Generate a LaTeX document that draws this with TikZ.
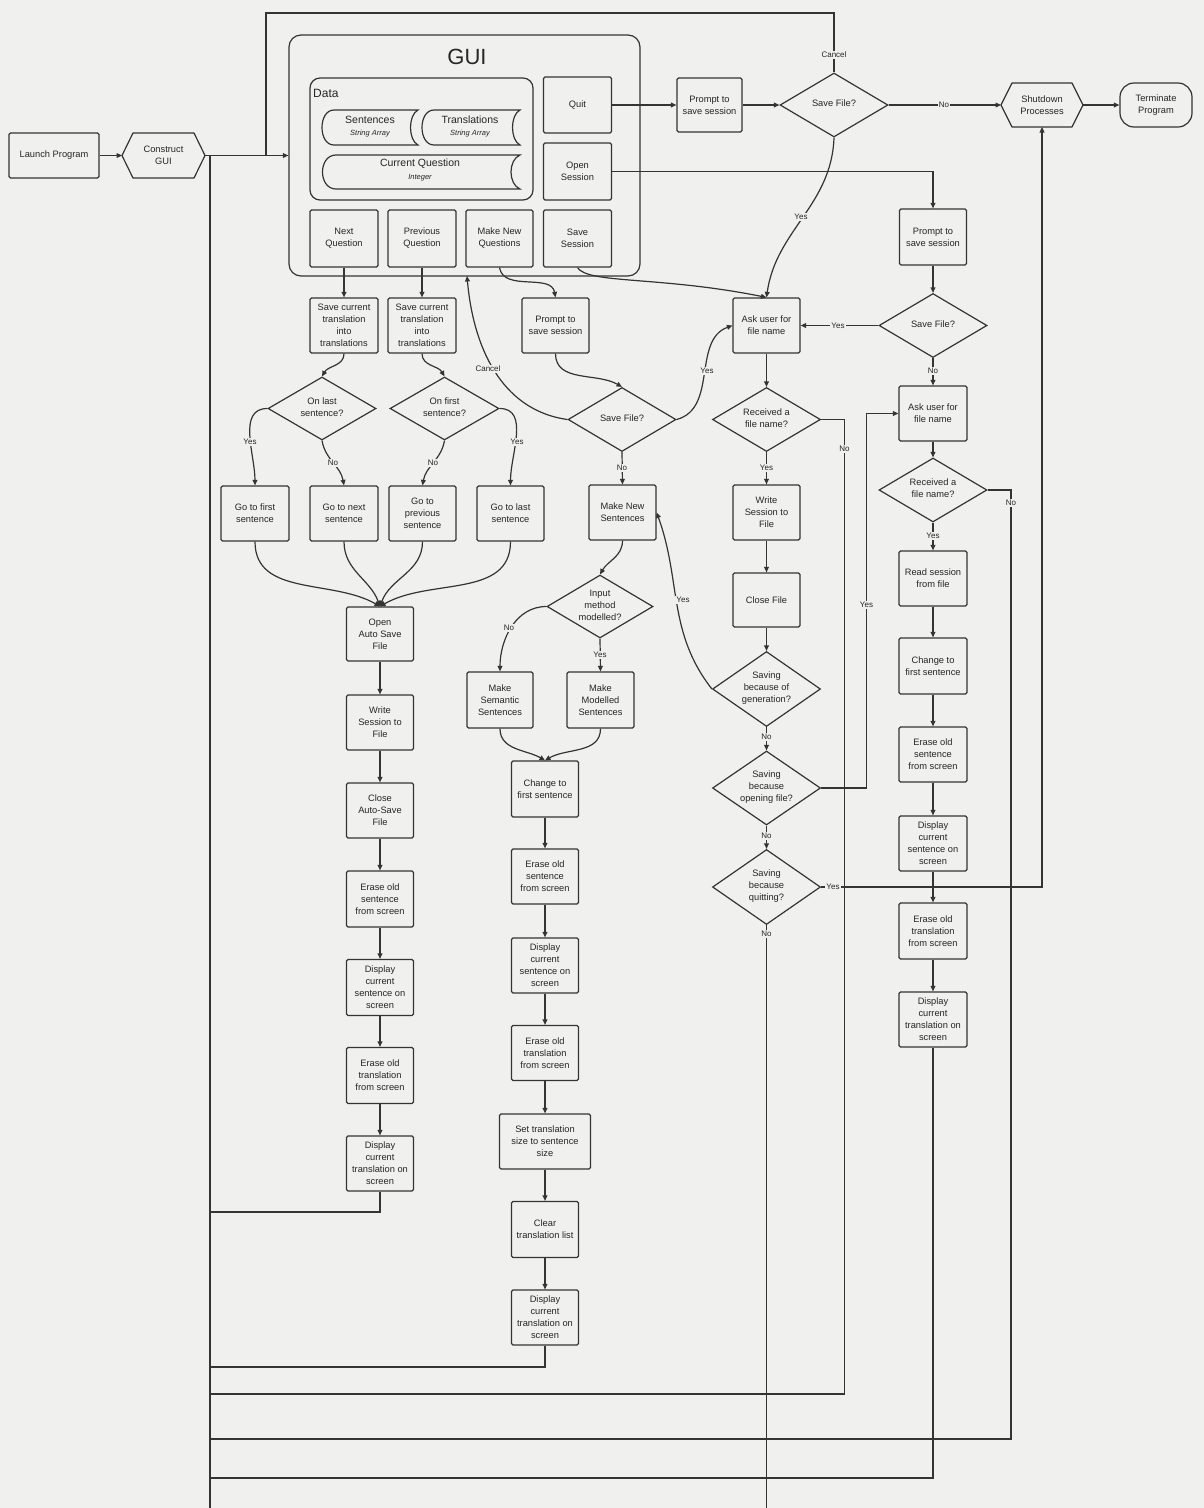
\documentclass[tikz,border=0pt]{standalone}
\usepackage{fontspec}
\setmainfont{Liberation Sans}
\usetikzlibrary{shapes.geometric,arrows.meta}
\definecolor{bg}{RGB}{240,240,239}
\definecolor{lnc}{RGB}{52,52,52}
\definecolor{tx}{RGB}{38,38,38}
\newcommand{\boxfont}{\fontsize{9.3}{12}\selectfont}
\newcommand{\lblfont}{\fontsize{8}{9.5}\selectfont}
\newcommand{\dtx}[1]{\makebox[0pt]{\raisebox{-2.8pt}{\smash{\begin{tabular}{@{}c@{}}#1\end{tabular}}}}}
\begin{document}
\begin{tikzpicture}[x=1pt,y=-1pt,
  box/.style={draw=lnc, line width=1.2pt, rounded corners=1.5pt, fill=bg, text=tx, align=center, font=\boxfont, inner sep=1pt, minimum width=67pt, minimum height=55pt},
  dia/.style={diamond, draw=lnc, line width=1.2pt, fill=bg, text=tx, font=\boxfont, inner sep=0pt, minimum width=108pt, minimum height=64pt},
  hexa/.style={draw=none, text=tx, align=center, font=\boxfont, inner sep=0pt, outer sep=0pt},
  conn/.style={draw=lnc, line width=1.2pt},
  arr/.style={conn, -{Triangle[length=5.5pt,width=4.8pt]}},
  lbl/.style={fill=bg, text=tx, font=\lblfont, inner sep=1pt},
  shp/.style={draw=lnc, line width=1.2pt}]
\fill[bg] (0,0) rectangle (1204,1508);
\useasboundingbox (0,0) rectangle (1204,1508);

% ---------- top row ----------
\node[box, minimum width=90pt, minimum height=45pt] (launch) at (54,155.5) {Launch Program};
\node[hexa, minimum width=83pt, minimum height=45pt] (construct) at (163.5,155.5) {Construct\\GUI};
\draw[conn, line join=round] (construct.west) -- ([xshift=11pt]construct.north west) -- ([xshift=-11pt]construct.north east) -- (construct.east) -- ([xshift=-11pt]construct.south east) -- ([xshift=11pt]construct.south west) -- cycle;

% ---------- GUI container ----------
\node[draw=lnc, line width=1.2pt, rounded corners=12pt, minimum width=351pt, minimum height=241pt, inner sep=0pt] (gui) at (464.5,155.5) {};
\node[text=tx, font=\fontsize{22}{24}\selectfont, inner sep=0pt] (guititle) at (467,57) {GUI};
\node[draw=lnc, line width=1.2pt, rounded corners=10pt, minimum width=223pt, minimum height=122pt, inner sep=0pt] (data) at (421.5,139) {};
\node[text=tx, font=\fontsize{12}{14}\selectfont, anchor=west, inner sep=0pt] (datatitle) at (313,93) {Data};

% stored data shapes
\draw[shp] (334,110) -- (418,110) .. controls (408,115) and (408,140) .. (418,145) -- (334,145) .. controls (318,145) and (318,110) .. (334,110) -- cycle;
\draw[shp] (434,110) -- (520,110) .. controls (510,115) and (510,140) .. (520,145) -- (434,145) .. controls (418,145) and (418,110) .. (434,110) -- cycle;
\draw[shp] (336,155) -- (520,155) .. controls (508,160) and (508,184) .. (520,189) -- (336,189) .. controls (318,189) and (318,155) .. (336,155) -- cycle;
\node[text=tx, font=\fontsize{10.5}{12}\selectfont, inner sep=0pt] (sentA) at (370,120) {Sentences};
\node[text=tx, font=\fontsize{7.5}{9}\selectfont\itshape, inner sep=0pt] (sentB) at (370,134) {String Array};
\node[text=tx, font=\fontsize{10.5}{12}\selectfont, inner sep=0pt] (transA) at (470,120) {Translations};
\node[text=tx, font=\fontsize{7.5}{9}\selectfont\itshape, inner sep=0pt] (transB) at (470,134) {String Array};
\node[text=tx, font=\fontsize{10.5}{12}\selectfont, inner sep=0pt] (curA) at (420,164) {Current Question};
\node[text=tx, font=\fontsize{7.5}{9}\selectfont\itshape, inner sep=0pt] (curB) at (420,177.5) {Integer};

\node[box, minimum width=68pt, minimum height=56pt] (quit) at (577.5,105) {Quit};
\node[box, minimum width=68pt, minimum height=57pt] (opensess) at (577.5,171.5) {Open\\Session};
\node[box, minimum width=68pt, minimum height=57pt] (nextq) at (344,238.5) {Next\\Question};
\node[box, minimum width=68pt, minimum height=57pt] (prevq) at (422,238.5) {Previous\\Question};
\node[box, minimum width=67pt, minimum height=57pt] (makeq) at (499.5,238.5) {Make New\\Questions};
\node[box, minimum width=68pt, minimum height=57pt] (savesess) at (577.5,238.5) {Save\\Session};

% ---------- quit branch ----------
\node[box, minimum width=65pt, minimum height=54pt] (prompt1) at (709.5,105) {Prompt to\\save session};
\node[dia] (sf1) at (834,105) {\dtx{Save File?}};
\node[hexa, minimum width=82pt, minimum height=44pt] (shutdown) at (1042,105) {Shutdown\\Processes};
\draw[conn, line join=round] (shutdown.west) -- ([xshift=11pt]shutdown.north west) -- ([xshift=-11pt]shutdown.north east) -- (shutdown.east) -- ([xshift=-11pt]shutdown.south east) -- ([xshift=11pt]shutdown.south west) -- cycle;
\node[box, rounded corners=14pt, minimum width=72pt, minimum height=44pt] (terminate) at (1156,105) {Terminate\\Program};

% ---------- open session branch ----------
\node[box, minimum width=67pt, minimum height=56pt] (prompt2) at (933,237) {Prompt to\\save session};
\node[dia] (sf2) at (933,325.5) {\dtx{Save File?}};
\node[box, minimum width=68pt] (ask2) at (933,413.5) {Ask user for\\file name};
\node[dia] (recv2) at (933,490) {\dtx{Received a\\file name?}};
\node[box, minimum width=68pt] (read) at (933,578.5) {Read session\\from file};
\node[box, minimum width=68pt, minimum height=56pt] (changeR) at (933,666) {Change to\\first sentence};
\node[box, minimum width=68pt] (eraseSR) at (933,754.5) {Erase old\\sentence\\from screen};
\node[box, minimum width=68pt] (dispSR) at (933,843.5) {Display\\current\\sentence on\\screen};
\node[box, minimum width=68pt, minimum height=56pt] (eraseTR) at (933,931) {Erase old\\translation\\from screen};
\node[box, minimum width=68pt] (dispTR) at (933,1019.5) {Display\\current\\translation on\\screen};

% ---------- save column ----------
\node[box] (ask1) at (766.5,325.5) {Ask user for\\file name};
\node[dia] (recv1) at (766.5,419.5) {\dtx{Received a\\file name?}};
\node[box] (writeS) at (766.5,512.5) {Write\\Session to\\File};
\node[box, minimum height=54pt] (closeF) at (766.5,600) {Close File};
\node[dia, minimum height=75pt] (gen) at (766.5,689) {\dtx{Saving\\because of\\generation?}};
\node[dia, minimum height=74pt] (opening) at (766.5,788) {\dtx{Saving\\because\\opening file?}};
\node[dia, minimum height=75pt] (quitting) at (766.5,887) {\dtx{Saving\\because\\quitting?}};

% ---------- next / previous ----------
\node[box, minimum width=68pt] (save1) at (344,325.5) {Save current\\translation\\into\\translations};
\node[box, minimum width=68pt] (save2) at (422,325.5) {Save current\\translation\\into\\translations};
\node[dia, minimum height=63pt] (onlast) at (322,408.5) {\dtx{On last\\sentence?}};
\node[dia, minimum width=109pt, minimum height=63pt] (onfirst) at (444.5,408.5) {\dtx{On first\\sentence?}};
\node[box, minimum width=68pt] (gofirst) at (255,513.5) {Go to first\\sentence};
\node[box, minimum width=68pt] (gonext) at (344,513.5) {Go to next\\sentence};
\node[box] (goprev) at (422.5,513.5) {Go to\\previous\\sentence};
\node[box] (golast) at (510.5,513.5) {Go to last\\sentence};
\node[box, minimum height=54pt] (openauto) at (380,634) {Open\\Auto Save\\File};
\node[box] (writeL) at (380,722.5) {Write\\Session to\\File};
\node[box] (closeL) at (380,810.5) {Close\\Auto-Save\\File};
\node[box, minimum height=56pt] (eraseSL) at (380,899) {Erase old\\sentence\\from screen};
\node[box, minimum height=56pt] (dispSL) at (380,987.5) {Display\\current\\sentence on\\screen};
\node[box, minimum height=56pt] (eraseTL) at (380,1075.5) {Erase old\\translation\\from screen};
\node[box] (dispTL) at (380,1163.5) {Display\\current\\translation on\\screen};

% ---------- make new questions ----------
\node[box] (prompt3) at (555.5,325.5) {Prompt to\\save session};
\node[dia] (sf3) at (622,419.5) {\dtx{Save File?}};
\node[box] (makens) at (622.5,512.5) {Make New\\Sentences};
\node[dia, minimum width=106pt, minimum height=63pt] (input) at (600,606.5) {\dtx{Input\\method\\modelled?}};
\node[box, minimum width=66pt, minimum height=56pt] (semantic) at (500,700) {Make\\Semantic\\Sentences};
\node[box, minimum height=56pt] (modelled) at (600.5,700) {Make\\Modelled\\Sentences};
\node[box, minimum height=56pt] (changeM) at (545,789) {Change to\\first sentence};
\node[box] (eraseSM) at (545,876.5) {Erase old\\sentence\\from screen};
\node[box] (dispSM) at (545,965.5) {Display\\current\\sentence on\\screen};
\node[box] (eraseTM) at (545,1053) {Erase old\\translation\\from screen};
\node[box, minimum width=91pt] (setsize) at (545,1141.5) {Set translation\\size to sentence\\size};
\node[box, minimum height=56pt] (clearT) at (545,1229.5) {Clear\\translation list};
\node[box] (dispTM) at (545,1317.5) {Display\\current\\translation on\\screen};

% ---------- coordinates ----------
\coordinate (jt) at (210,155.5);
\coordinate (tb) at (210,1508);
\coordinate (jc) at (266,155.5);
\coordinate (c1) at (266,13);
\coordinate (gin) at (467,276);
\coordinate (t1) at (210,1212);
\coordinate (t2) at (210,1367);
\coordinate (j3) at (844.5,1394);
\coordinate (t3) at (210,1394);
\coordinate (j4) at (1011,1439);
\coordinate (t4) at (210,1439);
\coordinate (t5) at (210,1478);
\coordinate (qb) at (766.5,1508);
\coordinate (yx) at (866.5,605);

% ---------- connectors ----------
\draw[arr] (launch.east) -- (construct.west);
\draw[arr] (construct.east) -- (gui.west);
\draw[conn] (tb) -- (jt);
\draw[conn] (sf1.north) |- (c1) -- (jc);

\draw[arr] (quit.east) -- (prompt1.west);
\draw[arr] (prompt1.east) -- (sf1.west);
\draw[arr] (sf1.east) -- (shutdown.west);
\draw[arr] (shutdown.east) -- (terminate.west);
\draw[arr] (sf1.south) to[out=-92,in=82] (ask1.north);
\draw[arr] (opensess.east) -| (prompt2.north);
\draw[arr] (savesess.south) .. controls (588,284) and (660,276) .. (ask1.north);

\draw[arr] (nextq.south) -- (save1.north);
\draw[arr] (prevq.south) -- (save2.north);
\draw[arr] (makeq.south) to[out=-80,in=100] (prompt3.north);

\draw[arr] (save1.south) to[out=-90,in=60] (onlast.north);
\draw[arr] (save2.south) to[out=-90,in=120] (onfirst.north);
\draw[arr] (onlast.west) to[out=180,in=90] (gofirst.north);
\draw[arr] (onlast.south) to[out=-80,in=100] (gonext.north);
\draw[arr] (onfirst.south) to[out=-100,in=80] (goprev.north);
\draw[arr] (onfirst.east) to[out=0,in=90] (golast.north);
\draw[arr] (gofirst.south) to[out=-90,in=150] (openauto.north);
\draw[arr] (gonext.south) to[out=-90,in=110] (openauto.north);
\draw[arr] (goprev.south) to[out=-90,in=70] (openauto.north);
\draw[arr] (golast.south) to[out=-90,in=30] (openauto.north);
\draw[arr] (openauto.south) -- (writeL.north);
\draw[arr] (writeL.south) -- (closeL.north);
\draw[arr] (closeL.south) -- (eraseSL.north);
\draw[arr] (eraseSL.south) -- (dispSL.north);
\draw[arr] (dispSL.south) -- (eraseTL.north);
\draw[arr] (eraseTL.south) -- (dispTL.north);
\draw[conn] (dispTL.south) |- (t1);

\draw[arr] (prompt3.south) to[out=-90,in=150] (sf3.north);
\draw[arr] (sf3.west) to[out=172,in=-85] (gin);
\draw[arr] (sf3.east) to[out=15,in=200] (ask1.west);
\draw[arr] (sf3.south) -- (makens.north);
\draw[arr] (makens.south) to[out=-90,in=60] (input.north);
\draw[arr] (input.west) to[out=180,in=90] (semantic.north);
\draw[arr] (input.south) -- (modelled.north);
\draw[arr] (semantic.south) to[out=-90,in=150] (changeM.north);
\draw[arr] (modelled.south) to[out=-90,in=30] (changeM.north);
\draw[arr] (changeM.south) -- (eraseSM.north);
\draw[arr] (eraseSM.south) -- (dispSM.north);
\draw[arr] (dispSM.south) -- (eraseTM.north);
\draw[arr] (eraseTM.south) -- (setsize.north);
\draw[arr] (setsize.south) -- (clearT.north);
\draw[arr] (clearT.south) -- (dispTM.north);
\draw[conn] (dispTM.south) |- (t2);

\draw[arr] (ask1.south) -- (recv1.north);
\draw[arr] (recv1.south) -- (writeS.north);
\draw[arr] (writeS.south) -- (closeF.north);
\draw[arr] (closeF.south) -- (gen.north);
\draw[arr] (gen.south) -- (opening.north);
\draw[arr] (opening.south) -- (quitting.north);
\draw[conn] (quitting.south) -- (qb);
\draw[conn] (recv1.east) -| (j3) -- (t3);
\draw[arr] (gen.west) to[out=128,in=-70] (makens.east);
\draw[arr] (opening.east) -| (yx) |- (ask2.west);
\draw[arr] (quitting.east) -| (shutdown.south);

\draw[arr] (prompt2.south) -- (sf2.north);
\draw[arr] (sf2.west) -- (ask1.east);
\draw[arr] (sf2.south) -- (ask2.north);
\draw[arr] (ask2.south) -- (recv2.north);
\draw[arr] (recv2.south) -- (read.north);
\draw[conn] (recv2.east) -| (j4) -- (t4);
\draw[arr] (read.south) -- (changeR.north);
\draw[arr] (changeR.south) -- (eraseSR.north);
\draw[arr] (eraseSR.south) -- (dispSR.north);
\draw[arr] (dispSR.south) -- (eraseTR.north);
\draw[arr] (eraseTR.south) -- (dispTR.north);
\draw[conn] (dispTR.south) |- (t5);

% ---------- labels ----------
\node[lbl] (lcan1) at (834,55) {Cancel};
\node[lbl] (lno1) at (944,105) {No};
\node[lbl] (lyes1) at (801,217) {Yes};
\node[lbl] (lyes2) at (250,442) {Yes};
\node[lbl] (lno2) at (333,463) {No};
\node[lbl] (lno3) at (433,463) {No};
\node[lbl] (lyes3) at (517,442) {Yes};
\node[lbl] (lcan2) at (488,369) {Cancel};
\node[lbl] (lyes4) at (707,371) {Yes};
\node[lbl] (lno4) at (622,468) {No};
\node[lbl] (lno5) at (509,628) {No};
\node[lbl] (lyes5) at (600,655) {Yes};
\node[lbl] (lyes6) at (838,325.5) {Yes};
\node[lbl] (lno6) at (844.5,449) {No};
\node[lbl] (lyes7) at (766.5,468) {Yes};
\node[lbl] (lyes8) at (683,600) {Yes};
\node[lbl] (lno7) at (766.5,737) {No};
\node[lbl] (lno8) at (766.5,836) {No};
\node[lbl] (lno9) at (766.5,934) {No};
\node[lbl] (lyes9) at (yx) {Yes};
\node[lbl] (lyes10) at (833,887) {Yes};
\node[lbl] (lno10) at (933,371) {No};
\node[lbl] (lno11) at (1011,503) {No};
\node[lbl] (lyes11) at (933,536) {Yes};
\end{tikzpicture}
\end{document}
